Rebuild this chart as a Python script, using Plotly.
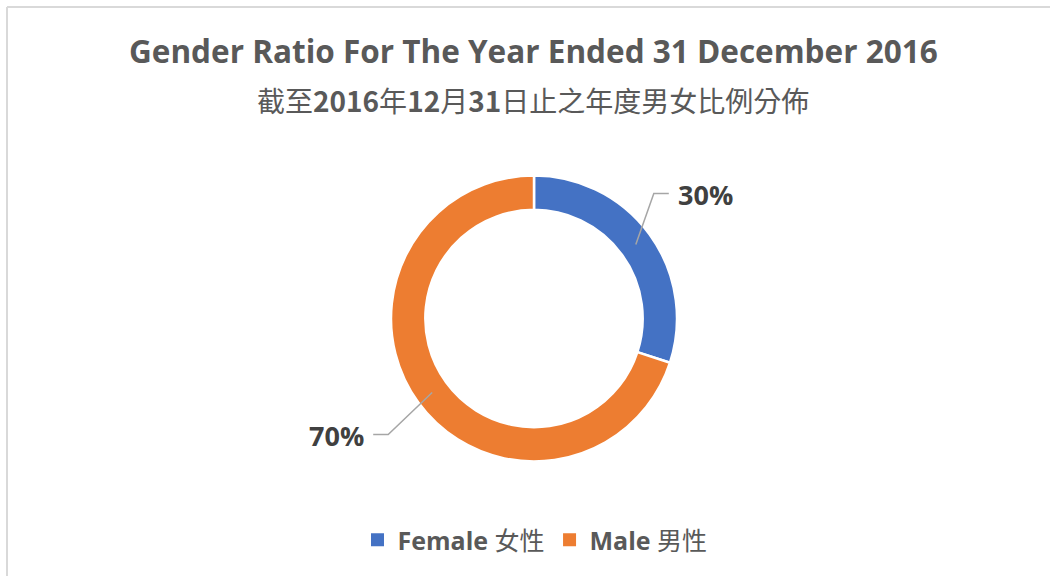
import math
import plotly.graph_objects as go

labels = ["<b>Female</b> 女性", "<b>Male</b> 男性"]
values = [30, 70]
colors = ["#4472C4", "#ED7D31"]
title_text = "<b>Gender Ratio For The Year Ended 31 December 2016</b>"
subtitle_text = "截至<b>2016</b>年<b>12</b>月<b>31</b>日止之年度男女比例分佈"

W, H = 1050, 576
cx, cy, R = 534, 318.5, 143
hole = 0.76

fig = go.Figure(go.Pie(
    labels=labels, values=values, sort=False, direction="clockwise", rotation=0,
    hole=hole, marker=dict(colors=colors, line=dict(color="white", width=2.5)),
    textinfo="none", hoverinfo="label+percent", showlegend=False,
    domain=dict(x=[(cx - R) / W, (cx + R) / W], y=[1 - (cy + R) / H, 1 - (cy - R) / H]),
))

# legend entries (square markers) matching the slices
for lab, col in zip(labels, colors):
    fig.add_trace(go.Scatter(x=[None], y=[None], mode="markers", name=lab,
                             marker=dict(symbol="square", size=13, color=col),
                             hoverinfo="skip", showlegend=True))

def px(x):
    return x / W

def py(y):
    return 1 - y / H

shapes = []
annotations = []
total = sum(values)
cum = 0
rmid = R * (1 + hole) / 2
for v in values:
    mid = (cum + v / 2) / total * 2 * math.pi
    cum += v
    sx = cx + rmid * math.sin(mid)
    sy = cy - rmid * math.cos(mid)
    right = math.sin(mid) > 0
    sgn = 1 if right else -1
    ex = sx + sgn * (18 if right else 44)
    ey = sy + (-51 if right else 42)
    tx = ex + sgn * 15
    shapes.append(dict(type="path", xref="paper", yref="paper",
                       path=f"M {px(sx)} {py(sy)} L {px(ex)} {py(ey)} L {px(tx)} {py(ey)}",
                       line=dict(color="#A6A6A6", width=1.5)))
    pct = f"<b>{round(v / total * 100)}%</b>"
    annotations.append(dict(x=px(tx + sgn * 7), y=py(ey + 1), xref="paper", yref="paper",
                            text=pct, showarrow=False,
                            xanchor="left" if right else "right", yanchor="middle",
                            font=dict(size=27, color="#404040", family="Open Sans, sans-serif")))

# frame lines
shapes.append(dict(type="line", xref="paper", yref="paper", x0=px(7), x1=px(7), y0=0, y1=py(7),
                   line=dict(color="#D9D9D9", width=2)))
shapes.append(dict(type="line", xref="paper", yref="paper", x0=px(7), x1=1, y0=py(7), y1=py(7),
                   line=dict(color="#D9D9D9", width=2)))

annotations.append(dict(x=px(533), y=py(50), xref="paper", yref="paper", text=title_text,
                        showarrow=False, xanchor="center", yanchor="middle",
                        font=dict(size=31.5, color="#595959", family="Open Sans, sans-serif")))
annotations.append(dict(x=px(533), y=py(100), xref="paper", yref="paper", text=subtitle_text,
                        showarrow=False, xanchor="center", yanchor="middle",
                        font=dict(size=28, color="#595959", family="Noto Sans CJK TC, Noto Sans CJK SC, sans-serif")))

fig.update_layout(
    width=W, height=H, margin=dict(l=0, r=0, t=0, b=0),
    paper_bgcolor="white", plot_bgcolor="white",
    xaxis=dict(visible=False), yaxis=dict(visible=False),
    shapes=shapes, annotations=annotations,
    showlegend=True,
    legend=dict(orientation="h", x=px(535), xanchor="center", y=py(540), yanchor="middle",
                font=dict(size=25, color="#595959", family="Open Sans, Noto Sans CJK TC, sans-serif"),
                itemsizing="trace", traceorder="normal", itemwidth=30),
)

fig.write_html("out.html", config={"displayModeBar": False},
               post_script="document.body.style.margin='0';document.body.style.overflow='hidden';")
